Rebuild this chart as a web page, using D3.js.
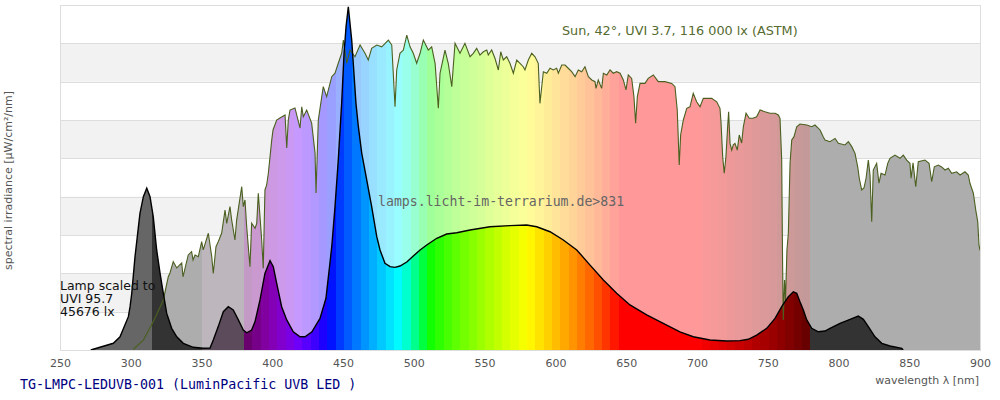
<!DOCTYPE html>
<html>
<head>
<meta charset="utf-8">
<script src="https://cdn.jsdelivr.net/npm/d3@7"></script>
<style>
  body { margin: 0; background: #fff; }
  svg { display: block; }
</style>
</head>
<body>
<div id="chart"></div>
<script>

// sun spectrum (ASTM, 42 deg), [wavelength nm, µW/cm²/nm]
const sunData = [
  [301.8, 0.4], [308.9, 5.2], [315.9, 14.8], [323.0, 26.1], [326.5, 38.2], [327.7, 40.2],
  [330.0, 46.1], [332.5, 42.8], [336.0, 45.4], [336.9, 38.2], [340.6, 49.6], [343.0, 51.3],
  [344.0, 47.0], [345.4, 49.6], [347.7, 48.7], [350.1, 56.5], [351.2, 52.2], [354.8, 60.9],
  [357.2, 48.7], [358.3, 40.0], [360.2, 53.9], [361.8, 56.5], [364.2, 60.9], [366.6, 73.0],
  [367.8, 66.1], [370.1, 74.8], [371.3, 67.8], [373.6, 57.4], [374.8, 67.8], [378.4, 85.2],
  [379.5, 74.8], [380.7, 78.3], [381.9, 64.3], [384.2, 43.5], [385.4, 66.1], [387.8, 63.5],
  [389.0, 66.1], [390.1, 81.8], [392.5, 57.4], [393.6, 42.6], [394.8, 83.5], [396.0, 86.1],
  [397.2, 92.2], [399.6, 109.6], [400.5, 114.8], [403.1, 120.0], [405.4, 121.0], [409.0, 122.6],
  [410.2, 105.4], [411.3, 120.0], [412.5, 125.2], [416.0, 126.3], [419.6, 115.8], [420.8, 126.9],
  [421.9, 121.7], [424.3, 125.2], [427.8, 118.4], [430.2, 102.6], [430.9, 81.9], [432.5, 120.0],
  [436.0, 137.4], [438.4, 132.2], [442.0, 142.6], [444.3, 144.4], [446.6, 149.6], [449.0, 154.8],
  [450.2, 161.7], [452.6, 149.6], [454.9, 156.5], [458.4, 153.0], [462.0, 159.1], [465.5, 154.8],
  [467.8, 151.3], [470.2, 157.4], [473.8, 159.1], [477.3, 158.2], [482.0, 161.7], [484.4, 159.1],
  [486.7, 126.9], [487.9, 146.1], [490.2, 154.8], [492.6, 156.5], [495.0, 164.3], [497.3, 158.2],
  [499.6, 154.8], [502.0, 149.6], [504.4, 154.8], [506.7, 161.7], [510.2, 156.5], [512.6, 158.2],
  [515.0, 149.6], [517.3, 126.1], [518.5, 144.4], [522.0, 156.5], [524.3, 149.6], [526.8, 137.4],
  [529.1, 160.0], [532.6, 154.8], [536.1, 160.0], [539.7, 153.0], [542.0, 154.8], [544.4, 157.4],
  [546.7, 153.9], [549.1, 155.6], [551.5, 156.5], [552.6, 153.9], [555.0, 156.5], [557.3, 152.2],
  [559.7, 146.1], [561.4, 155.6], [563.2, 151.3], [565.6, 153.0], [567.9, 149.6], [570.3, 144.4],
  [572.7, 151.3], [575.0, 149.6], [577.3, 147.8], [578.5, 146.1], [580.9, 151.3], [583.3, 154.8],
  [585.6, 153.0], [587.9, 149.6], [589.1, 128.7], [591.5, 145.2], [593.9, 144.4], [596.2, 147.0],
  [598.5, 146.1], [600.9, 147.0], [602.1, 144.4], [604.5, 148.7], [606.8, 148.7], [609.1, 147.0],
  [611.5, 145.2], [613.9, 142.6], [616.2, 146.1], [618.6, 145.2], [620.9, 147.8], [623.3, 142.6],
  [625.7, 140.9], [628.0, 140.0], [628.7, 136.5], [630.3, 140.9], [632.7, 136.5], [633.9, 144.4],
  [636.3, 143.5], [638.6, 146.1], [640.9, 144.4], [643.3, 145.2], [645.7, 144.4], [648.0, 140.9],
  [649.9, 135.7], [651.5, 143.5], [653.9, 141.7], [655.5, 132.2], [656.7, 118.3], [657.9, 132.2],
  [659.8, 139.1], [663.3, 139.1], [665.6, 141.7], [669.2, 143.5], [672.7, 140.0], [677.4, 140.0],
  [682.2, 139.1], [684.5, 137.4], [686.1, 125.2], [687.5, 96.5], [688.5, 112.2], [690.4, 120.0],
  [692.8, 126.1], [695.1, 126.9], [697.4, 133.9], [699.8, 129.5], [702.2, 126.9], [704.5, 131.3],
  [707.1, 131.3], [710.4, 131.3], [714.0, 129.5], [716.3, 126.1], [717.0, 119.1], [718.2, 100.8],
  [719.3, 92.2], [720.5, 100.8], [721.7, 116.5], [722.4, 124.3], [723.4, 107.8], [724.6, 104.3],
  [725.7, 107.0], [726.9, 107.8], [728.5, 104.3], [729.9, 112.2], [731.6, 108.0], [732.8, 116.5],
  [734.7, 123.5], [737.0, 120.9], [739.6, 120.9], [742.2, 121.7], [744.6, 125.2], [748.1, 124.3],
  [751.6, 123.5], [755.2, 123.5], [757.5, 122.6], [758.7, 120.9], [759.9, 99.1], [760.5, 47.0],
  [761.0, 15.7], [761.9, 36.5], [762.6, 26.1], [763.6, 52.2], [764.6, 61.0], [765.8, 97.6],
  [767.0, 109.6], [768.6, 111.3], [770.5, 116.5], [772.8, 117.9], [777.6, 117.4], [781.1, 116.5],
  [783.4, 117.4], [787.0, 114.8], [789.3, 111.1], [790.5, 109.6], [794.0, 108.7], [797.6, 110.4],
  [799.9, 107.8], [804.6, 107.0], [807.0, 108.7], [809.4, 106.1], [811.7, 102.6], [813.6, 95.6],
  [814.7, 89.6], [816.4, 83.5], [818.0, 84.5], [819.5, 89.6], [821.1, 99.1], [822.3, 91.3],
  [823.5, 66.9], [824.6, 93.9], [827.0, 97.4], [828.6, 87.0], [830.1, 92.2], [832.9, 91.3],
  [834.8, 97.4], [836.4, 100.0], [839.9, 101.7], [843.5, 100.0], [845.8, 101.7], [848.2, 99.1],
  [850.5, 97.4], [851.3, 89.6], [852.7, 97.6], [854.6, 85.2], [856.4, 98.2], [861.1, 99.1],
  [864.0, 97.4], [865.9, 87.8], [867.7, 95.6], [870.5, 96.5], [872.9, 95.5], [875.3, 93.9],
  [877.6, 94.8], [880.0, 92.2], [883.5, 93.0], [885.9, 91.3], [889.4, 93.0], [891.7, 91.3],
  [892.9, 87.0], [895.3, 81.8], [897.0, 73.0], [898.4, 66.9], [899.3, 54.8], [900.0, 52.0]
];

// lamp spectrum, scaled, [wavelength nm, µW/cm²/nm]
const lampData = [
  [271.7, 0], [287.7, 3.5], [292.4, 6.9], [298.3, 17.4], [299.5, 22.6], [300.7, 29.6],
  [303.0, 48.7], [306.5, 71.3], [308.9, 80.0], [311.3, 84.4], [313.6, 80.0], [315.9, 69.5],
  [318.3, 52.2], [320.7, 40.0], [323.0, 29.6], [325.4, 19.1], [328.9, 11.3], [332.5, 6.9],
  [337.1, 3.5], [344.2, 1.4], [351.2, 0.9], [356.0, 1.0], [358.3, 5.2], [361.8, 12.2],
  [365.4, 20.0], [368.9, 22.6], [372.4, 20.9], [376.0, 15.7], [379.5, 10.4], [381.9, 9.0],
  [385.4, 10.4], [387.8, 14.8], [391.3, 26.1], [394.8, 40.0], [398.4, 46.6], [400.7, 43.5],
  [403.1, 34.8], [406.6, 22.6], [410.2, 15.7], [414.8, 9.5], [419.6, 6.9], [423.1, 6.9],
  [428.0, 9.5], [433.7, 16.5], [437.9, 27.0], [440.8, 45.9], [442.0, 53.9], [444.3, 74.8],
  [446.6, 99.1], [449.0, 128.7], [450.7, 154.8], [452.1, 168.7], [453.7, 179.1], [456.1, 161.7],
  [457.2, 149.6], [459.1, 128.7], [460.8, 116.5], [463.2, 102.6], [466.7, 88.7], [470.2, 74.8],
  [473.8, 59.1], [476.1, 52.2], [479.6, 45.2], [483.2, 43.5], [486.7, 43.1], [490.2, 43.8],
  [495.0, 45.9], [499.6, 49.0], [504.4, 52.2], [509.1, 54.8], [516.2, 58.3], [523.2, 60.5],
  [530.3, 61.2], [539.7, 62.6], [553.8, 64.3], [567.9, 64.9], [579.7, 65.2], [586.8, 64.3],
  [596.2, 61.7], [605.6, 57.4], [615.1, 52.2], [624.5, 44.3], [633.9, 36.5], [643.3, 29.6],
  [652.7, 23.5], [664.5, 18.3], [676.2, 13.9], [688.0, 9.5], [697.4, 6.9], [709.2, 5.2],
  [721.0, 4.7], [730.4, 4.9], [736.3, 5.6], [742.2, 7.8], [749.3, 11.3], [755.2, 16.5],
  [759.9, 22.6], [764.6, 27.8], [768.1, 30.4], [770.5, 29.6], [772.8, 25.2], [775.2, 20.9],
  [777.6, 15.7], [781.1, 11.3], [785.8, 9.5], [790.5, 9.9], [794.0, 11.3], [801.1, 13.9],
  [808.2, 16.0], [814.0, 17.7], [817.6, 16.0], [821.1, 12.2], [825.8, 6.9], [830.6, 3.5],
  [836.4, 2.1], [844.7, 0.9], [845.7, 0]
];

const xTicks = [250, 300, 350, 400, 450, 500, 550, 600, 650, 700, 750, 800, 850, 900];
const gridValues = [0, 20, 40, 60, 80, 100, 120, 140, 160, 180];

const sunLabel = 'Sun, 42°, UVI 3.7, 116 000 lx (ASTM)';
const lampLabel = ['Lamp scaled to', 'UVI 95.7', '45676 lx'];
const sourceLabel = 'lamps.licht-im-terrarium.de>831';
const titleLabel = 'TG-LMPC-LEDUVB-001 (LuminPacific UVB LED )';

// ---------------------------------------------------------------

const W = 1000, H = 400;
const margin = { top: 5, right: 20, bottom: 50, left: 60 };

const svg = d3.select('#chart').append('svg')
    .attr('width', W)
    .attr('height', H);

const x = d3.scaleLinear().domain([250, 900]).range([margin.left, W - margin.right]);
const y = d3.scaleLinear().domain([0, 180]).range([H - margin.bottom, margin.top]);

// colour of a wavelength (Bruton style, with fade at the ends)
function specColor(l) {
  let r = 0, g = 0, b = 0;
  if (l < 440)      { r = (440 - l) / 60; b = 1; }
  else if (l < 490) { g = (l - 440) / 50; b = 1; }
  else if (l < 510) { g = 1; b = (510 - l) / 20; }
  else if (l < 580) { r = (l - 510) / 70; g = 1; }
  else if (l < 645) { r = 1; g = (645 - l) / 65; }
  else              { r = 1; }
  let f = 1;
  if (l < 420) f = 0.3 + 0.7 * (l - 380) / 40;
  if (l > 700) f = 0.3 + 0.7 * (780 - l) / 80;
  const c = v => v === 0 ? 0 : Math.round(255 * Math.pow(v * f, 0.8));
  return d3.rgb(c(r), c(g), c(b)).formatHex();
}

// stripes along the x axis: UV bands in grey, visible part in colour
const stripes = [[250, 315, '#666666'], [315, 350, '#333333'], [350, 380, '#5b4b5b']];
const step = 400 / 68;
for (let l = 380; l < 779.9; l += step) {
  stripes.push([l, l + step, specColor(l + step / 2)]);
}
stripes.push([780, 900, '#333333']);

const pastel = c => d3.interpolateRgb(c, '#ffffff')(0.6);

// background bands and grid
const g = svg.append('g');

g.selectAll('rect.band')
  .data(d3.pairs(gridValues).filter((d, i) => i % 2 === 1))
  .enter().append('rect')
    .attr('class', 'band')
    .attr('x', x(250))
    .attr('width', x(900) - x(250))
    .attr('y', d => y(d[1]))
    .attr('height', d => y(d[0]) - y(d[1]))
    .attr('fill', '#f2f2f2');

g.selectAll('line.grid')
  .data(gridValues)
  .enter().append('line')
    .attr('class', 'grid')
    .attr('x1', x(250)).attr('x2', x(900))
    .attr('y1', d => Math.round(y(d)) + 0.5)
    .attr('y2', d => Math.round(y(d)) + 0.5)
    .attr('stroke', '#dddddd');

// areas
const area = d3.area()
    .x(d => x(d[0]))
    .y0(y(0))
    .y1(d => y(d[1]));

const line = d3.line()
    .x(d => x(d[0]))
    .y(d => y(d[1]));

const defs = svg.append('defs');
defs.append('clipPath').attr('id', 'clipSun')
  .append('path').attr('d', area(sunData));
defs.append('clipPath').attr('id', 'clipLamp')
  .append('path').attr('d', area(lampData));

function drawStripes(clipId, colorFn) {
  svg.append('g')
      .attr('clip-path', `url(#${clipId})`)
    .selectAll('rect')
    .data(stripes)
    .enter().append('rect')
      .attr('x', d => x(d[0]))
      .attr('width', d => x(d[1]) - x(d[0]) + 0.5)
      .attr('y', y(180))
      .attr('height', y(0) - y(180))
      .attr('fill', d => colorFn(d[2]))
      .attr('shape-rendering', 'crispEdges');
}

drawStripes('clipSun', pastel);
drawStripes('clipLamp', c => c);

svg.append('path')
    .attr('d', line(sunData))
    .attr('fill', 'none')
    .attr('stroke', '#4b6020')
    .attr('stroke-width', 1.1);

svg.append('path')
    .attr('d', line(lampData))
    .attr('fill', 'none')
    .attr('stroke', '#000')
    .attr('stroke-width', 1.4);

// frame
svg.append('rect')
    .attr('x', x(250) + 0.5)
    .attr('y', y(180) + 0.5)
    .attr('width', x(900) - x(250))
    .attr('height', y(0) - y(180))
    .attr('fill', 'none')
    .attr('stroke', '#dddddd');

// x axis
const xAxis = svg.append('g')
    .attr('transform', `translate(0, ${y(0)})`)
    .call(d3.axisBottom(x).tickValues(xTicks).tickSize(0).tickPadding(9));
xAxis.select('.domain').remove();
xAxis.selectAll('text')
    .attr('fill', '#555')
    .style('font-family', 'DejaVu Sans')
    .style('font-size', '11px');

// texts
svg.append('text')
    .attr('x', x(900) - 1)
    .attr('y', 384)
    .attr('text-anchor', 'end')
    .attr('fill', '#555')
    .style('font-family', 'DejaVu Sans')
    .style('font-size', '11px')
    .text('wavelength λ [nm]');

svg.append('text')
    .attr('transform', `translate(12, ${(y(0) + y(180)) / 2 + 3}) rotate(-90)`)
    .attr('text-anchor', 'middle')
    .attr('fill', '#555')
    .style('font-family', 'DejaVu Sans')
    .style('font-size', '11px')
    .text('spectral irradiance [µW/cm²/nm]');

svg.append('text')
    .attr('x', 562)
    .attr('y', 35)
    .attr('fill', '#556b2f')
    .style('font-family', 'DejaVu Sans')
    .style('font-size', '12.8px')
    .text(sunLabel);

svg.append('text')
    .attr('x', 378)
    .attr('y', 206)
    .attr('fill', '#666')
    .style('font-family', 'DejaVu Sans Mono')
    .style('font-size', '13.2px')
    .text(sourceLabel);

// lamp note, three lines
lampLabel.forEach((t, i) => {
  svg.append('text')
      .attr('x', 60)
      .attr('y', 290 + i * 13)
      .attr('fill', '#111')
      .style('font-family', 'DejaVu Sans')
      .style('font-size', '12.5px')
      .text(t);
});

svg.append('text')
    .attr('x', 20)
    .attr('y', 389)
    .attr('fill', '#000080')
    .style('font-family', 'DejaVu Sans Mono')
    .style('font-size', '13.3px')
    .text(titleLabel);

</script>
</body>
</html>
